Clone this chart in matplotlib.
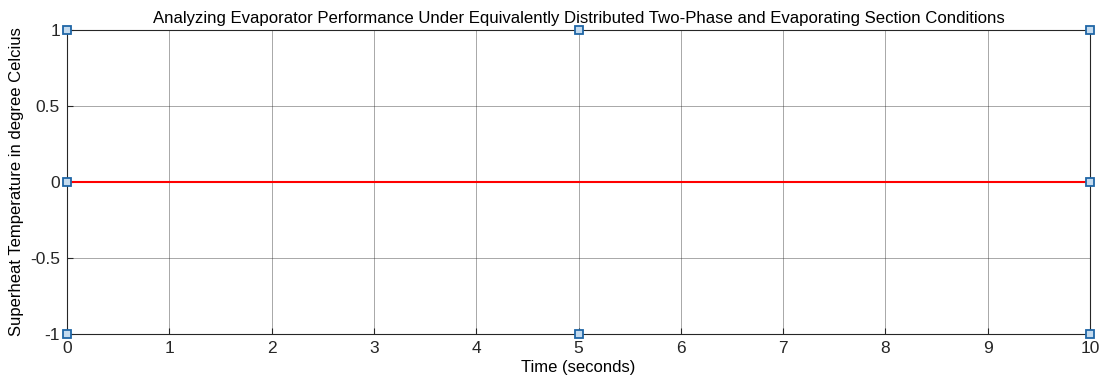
import matplotlib.pyplot as plt

# data
t_line = [0, 10]
superheat = [0, 0]
mark_x = [0, 0, 0, 5, 5, 10, 10, 10]
mark_y = [1, 0, -1, 1, -1, 1, 0, -1]
xticks = list(range(0, 11))
yticks = [-1, -0.5, 0, 0.5, 1]

plt.rcParams['font.family'] = ['Liberation Sans', 'DejaVu Sans']

fig = plt.figure(figsize=(11.02, 3.9), dpi=100)
ax = fig.add_axes([67 / 1102, 1 - 334 / 390, (1090 - 67) / 1102, (334 - 30) / 390])

ax.plot(t_line, superheat, color='#ff0000', lw=1.5, zorder=3)
ax.plot(mark_x, mark_y, ls='none', marker='s', ms=6, mfc='#c4dbef', mec='#1f66a6',
        mew=1.3, zorder=4, clip_on=False)

ax.set_xlim(0, 10)
ax.set_ylim(-1, 1)
ax.set_xticks(xticks)
ax.set_yticks(yticks)
ax.set_yticklabels(['-1', '-0.5', '0', '0.5', '1'])
ax.grid(True, color='#262626', alpha=0.4, lw=0.7)
ax.tick_params(direction='in', length=4, labelsize=12.5, colors='#262626', pad=5)
for s in ax.spines.values():
    s.set_color('#262626')
    s.set_linewidth(0.8)

ax.set_title('Analyzing Evaporator Performance Under Equivalently Distributed Two-Phase and Evaporating Section Conditions',
             fontsize=12.1, pad=5)
ax.set_xlabel('Time (seconds)', fontsize=12, labelpad=3)
ax.set_ylabel('Superheat Temperature in degree Celcius', fontsize=12, labelpad=4)

fig.savefig('out.png', dpi=100)
